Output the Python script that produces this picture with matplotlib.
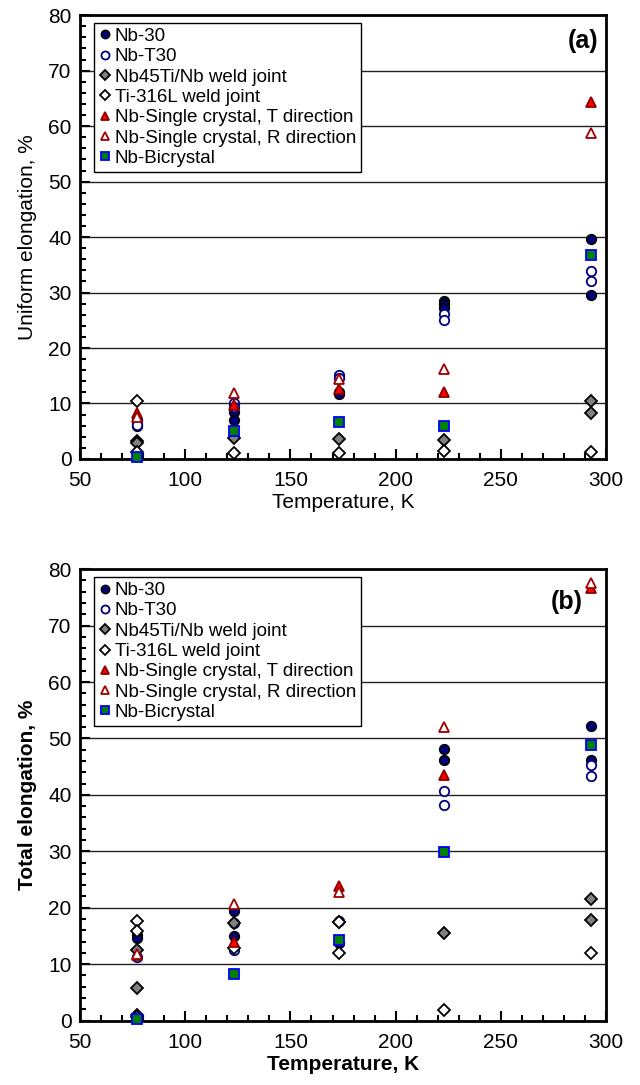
import matplotlib
matplotlib.use('Agg')
import matplotlib.pyplot as plt
from matplotlib.ticker import MultipleLocator

plt.rcParams['font.family'] = ['Liberation Sans', 'DejaVu Sans']

# ---- data: (a) uniform elongation, (b) total elongation ----
nb30_T_a = [77, 77, 123, 123, 173, 173, 223, 223, 223, 293, 293]
nb30_a = [7.0, 5.9, 8.5, 7.1, 12.0, 11.7, 28.5, 27.9, 27.3, 39.6, 29.6]
nbt30_T_a = [77, 77, 123, 123, 173, 173, 223, 223, 293, 293]
nbt30_a = [6.8, 6.2, 10.0, 9.3, 15.1, 14.6, 26.2, 25.1, 33.9, 32.1]
ti45_T_a = [77, 77, 123, 173, 223, 293, 293]
ti45_a = [3.2, 2.8, 3.7, 3.6, 3.4, 10.5, 8.3]
ss316_T_a = [77, 77, 123, 173, 223, 293]
ss316_a = [10.5, 1.3, 1.1, 1.1, 1.4, 1.3]
sct_T_a = [77, 123, 173, 223, 293]
sct_a = [8.3, 9.7, 12.6, 12.1, 64.4]
scr_T_a = [77, 123, 173, 223, 293]
scr_a = [7.6, 11.8, 14.5, 16.2, 58.7]
bic_T_a = [77, 123, 173, 223, 293]
bic_a = [0.3, 5.0, 6.6, 6.0, 36.8]

nb30_T_b = [77, 77, 123, 123, 173, 223, 223, 293, 293]
nb30_b = [15.2, 14.6, 19.5, 14.9, 13.7, 48.1, 46.2, 52.2, 46.1]
nbt30_T_b = [77, 123, 123, 173, 223, 223, 293, 293]
nbt30_b = [11.2, 17.3, 12.5, 17.7, 40.7, 38.2, 45.3, 43.4]
ti45_T_b = [77, 77, 77, 123, 173, 223, 293, 293]
ti45_b = [12.5, 5.8, 1.0, 17.3, 17.5, 15.6, 21.5, 17.8]
ss316_T_b = [77, 77, 77, 123, 173, 173, 223, 293]
ss316_b = [17.7, 15.9, 0.6, 12.8, 17.4, 12.0, 1.9, 11.9]
sct_T_b = [77, 123, 173, 223, 293]
sct_b = [11.6, 14.0, 23.8, 43.5, 76.6]
scr_T_b = [77, 123, 173, 223, 293]
scr_b = [11.8, 20.7, 22.8, 52.0, 77.6]
bic_T_b = [77, 123, 173, 223, 293]
bic_b = [0.2, 8.2, 14.3, 29.8, 48.8]

labels = ['Nb-30', 'Nb-T30', 'Nb45Ti/Nb weld joint', 'Ti-316L weld joint',
          'Nb-Single crystal, T direction', 'Nb-Single crystal, R direction',
          'Nb-Bicrystal']

styles = [
    dict(marker='o', mfc='#000080', mec='black'),
    dict(marker='o', mfc='white', mec='#000080'),
    dict(marker='D', mfc='#808080', mec='black', ms_scale=0.85),
    dict(marker='D', mfc='white', mec='black', ms_scale=0.85),
    dict(marker='^', mfc='#ff0000', mec='#8b0000'),
    dict(marker='^', mfc='white', mec='#a00000'),
    dict(marker='s', mfc='#008000', mec='#0000ff'),
]


def draw_panel(ax, series, ylabel, tag, tag_x, tag_y, bold):
    for i, ((x, y), lab, st) in enumerate(zip(series, labels, styles)):
        ms = 6.8 * st.get('ms_scale', 1.0)
        ax.plot(x, y, linestyle='none', marker=st['marker'], markersize=ms,
                markerfacecolor=st['mfc'], markeredgecolor=st['mec'],
                markeredgewidth=1.3, label=lab, zorder=3 + i, clip_on=False)
    ax.set_xlim(50, 300)
    ax.set_ylim(0, 80)
    ax.xaxis.set_major_locator(MultipleLocator(50))
    ax.xaxis.set_minor_locator(MultipleLocator(10))
    ax.yaxis.set_major_locator(MultipleLocator(10))
    ax.yaxis.set_minor_locator(MultipleLocator(2))
    ax.tick_params(which='both', direction='in', top=False, right=False,
                   labelsize=15, width=1.5)
    ax.tick_params(which='major', length=7)
    ax.tick_params(which='minor', length=4)
    ax.tick_params(axis='x', which='major', pad=9)
    ax.tick_params(axis='y', which='major', pad=6)
    ax.yaxis.grid(True, which='major', color='#222222', linewidth=1.0)
    ax.set_axisbelow(True)
    for sp in ax.spines.values():
        sp.set_linewidth(2)
    w = 'bold' if bold else 'normal'
    ax.set_xlabel('Temperature, K', fontsize=15, fontweight=w, labelpad=2)
    ax.set_ylabel(ylabel, fontsize=15, fontweight=w, labelpad=8)
    ax.text(tag_x, tag_y, tag, transform=ax.transAxes, ha='right', va='top',
            fontsize=18, fontweight='bold', zorder=25)
    leg = ax.legend(loc='upper left', bbox_to_anchor=(0.027, 0.982),
                    fontsize=13.5, numpoints=1, markerscale=0.85,
                    handlelength=0.6, handletextpad=0.25, labelspacing=0.17,
                    borderpad=0.25, borderaxespad=0, fancybox=False,
                    framealpha=1, edgecolor='black')
    leg.get_frame().set_linewidth(1.0)
    leg.set_zorder(20)


fig = plt.figure(figsize=(6.4, 10.85), dpi=100)
ax1 = fig.add_axes([0.125, 0.577, 0.822, 0.409])
ax2 = fig.add_axes([0.125, 0.0594, 0.822, 0.416])

series_a = [(nb30_T_a, nb30_a), (nbt30_T_a, nbt30_a), (ti45_T_a, ti45_a),
            (ss316_T_a, ss316_a), (sct_T_a, sct_a), (scr_T_a, scr_a),
            (bic_T_a, bic_a)]
series_b = [(nb30_T_b, nb30_b), (nbt30_T_b, nbt30_b), (ti45_T_b, ti45_b),
            (ss316_T_b, ss316_b), (sct_T_b, sct_b), (scr_T_b, scr_b),
            (bic_T_b, bic_b)]

draw_panel(ax1, series_a, 'Uniform elongation, %', '(a)', 0.985, 0.97, False)
draw_panel(ax2, series_b, 'Total elongation, %', '(b)', 0.955, 0.955, True)

fig.savefig('out.png', dpi=100, facecolor='white')
